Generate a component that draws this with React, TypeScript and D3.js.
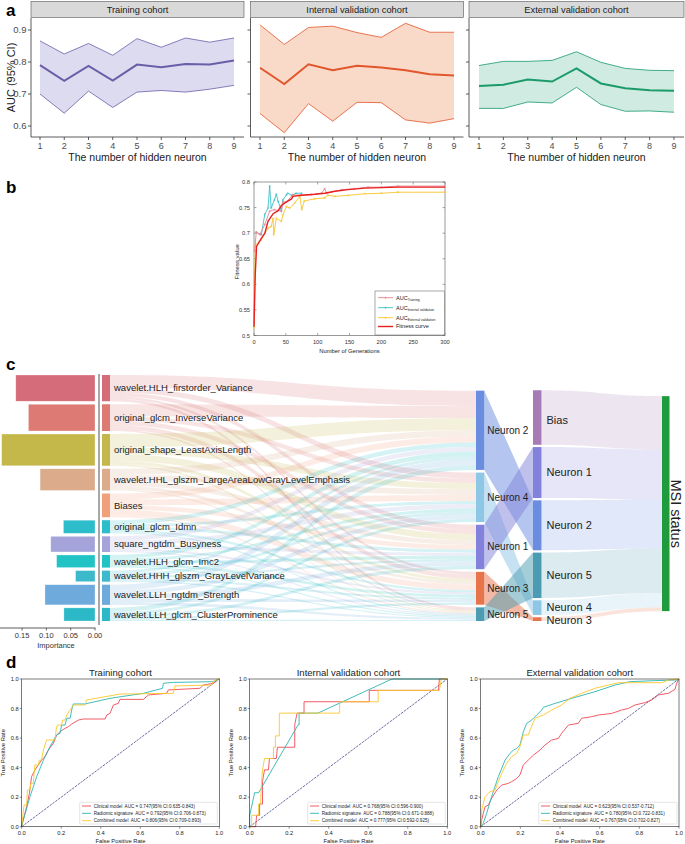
import React from 'react';
import * as d3 from 'd3';

const FONT = '"Liberation Sans", Arial, Helvetica, sans-serif';

// ---------- Panel a data ----------
const hiddenNeurons = [1, 2, 3, 4, 5, 6, 7, 8, 9];
const trainMean = [0.790, 0.741, 0.788, 0.742, 0.792, 0.784, 0.794, 0.792, 0.805];
const trainUpper = [0.866, 0.825, 0.858, 0.821, 0.873, 0.846, 0.875, 0.862, 0.875];
const trainLower = [0.700, 0.640, 0.709, 0.658, 0.706, 0.711, 0.706, 0.715, 0.727];
const internalMean = [0.782, 0.731, 0.793, 0.774, 0.788, 0.783, 0.774, 0.762, 0.758];
const internalUpper = [0.916, 0.855, 0.908, 0.912, 0.892, 0.877, 0.921, 0.893, 0.893];
const internalLower = [0.639, 0.579, 0.670, 0.615, 0.674, 0.673, 0.619, 0.609, 0.623];
const externalMean = [0.725, 0.729, 0.745, 0.739, 0.780, 0.733, 0.718, 0.712, 0.710];
const externalUpper = [0.789, 0.802, 0.802, 0.805, 0.832, 0.799, 0.780, 0.774, 0.773];
const externalLower = [0.655, 0.655, 0.675, 0.672, 0.721, 0.667, 0.646, 0.647, 0.643];
const cohortNames = ['Training cohort', 'Internal validation cohort', 'External validation cohort'];
const aucTicks = [0.6, 0.7, 0.8, 0.9];

// ---------- Panel b data ----------
const fitnessGen = [0, 2, 4, 11.5, 17, 22, 30, 38, 43, 51, 59, 61, 74, 95, 111, 127, 148, 174, 200, 226, 300];
const fitnessVal = [0.517, 0.62, 0.674, 0.69, 0.70, 0.723, 0.738, 0.744, 0.754, 0.761, 0.767, 0.772, 0.774, 0.776, 0.778, 0.782, 0.785, 0.788, 0.789, 0.79, 0.79];
const aucTrainGen = [1, 3.6, 9, 17, 24.6, 32, 43, 45.5, 51, 61, 74, 90, 106, 111, 114, 138, 158, 179, 200, 226, 300];
const aucTrainVal = [0.665, 0.702, 0.697, 0.717, 0.743, 0.746, 0.743, 0.761, 0.761, 0.775, 0.774, 0.775, 0.778, 0.787, 0.778, 0.785, 0.787, 0.79, 0.79, 0.792, 0.792];
const aucIntGen = [3.6, 11.5, 17, 22, 24.6, 27, 32, 35, 38, 43, 45.5, 51, 53, 59, 66, 75];
const aucIntVal = [0.702, 0.697, 0.737, 0.749, 0.792, 0.749, 0.765, 0.776, 0.762, 0.743, 0.765, 0.775, 0.778, 0.774, 0.778, 0.778];
const aucExtGen = [0, 2, 11.5, 22, 27, 30, 31, 35, 43, 45.5, 51, 56, 64, 72, 75, 79, 95, 111, 116, 127, 148, 174, 200, 226, 300];
const aucExtVal = [0.515, 0.677, 0.687, 0.71, 0.713, 0.729, 0.697, 0.729, 0.723, 0.736, 0.752, 0.749, 0.759, 0.772, 0.746, 0.763, 0.767, 0.769, 0.774, 0.772, 0.774, 0.777, 0.778, 0.78, 0.78];
const fitnessYTicks = [0.5, 0.55, 0.6, 0.65, 0.7, 0.75, 0.8];
const fitnessYLabels = ['0.5', '0.55', '0.6', '0.65', '0.7', '0.75', '0.8'];
const generationTicks = [0, 50, 100, 150, 200, 250, 300];

// ---------- Panel c data ----------
const featureNames = [
  'wavelet.HLH_firstorder_Variance',
  'original_glcm_InverseVariance',
  'original_shape_LeastAxisLength',
  'wavelet.HHL_glszm_LargeAreaLowGrayLevelEmphasis',
  'Biases',
  'original_glcm_Idmn',
  'square_ngtdm_Busyness',
  'wavelet.HLH_glcm_Imc2',
  'wavelet.HHH_glszm_GrayLevelVariance',
  'wavelet.LLH_ngtdm_Strength',
  'wavelet.LLH_glcm_ClusterProminence',
];
const featureImportance = [0.163, 0.137, 0.192, 0.113, null, 0.065, 0.091, 0.079, 0.040, 0.103, 0.064];
const featureNodeValues = [26, 26.5, 31.5, 21.5, 23.5, 13, 15.5, 12.5, 11, 20, 13];
const featureColors = ['#d56c79', '#de7a74', '#c5b84b', '#dbab8b', '#f2a07b', '#2dbcc9', '#a4a4da', '#22c3c4', '#3db9cc', '#6faadd', '#2cb9c7'];
const importanceTicks = [0, 0.05, 0.1, 0.15];
const hiddenL1Names = ['Neuron 2', 'Neuron 4', 'Neuron 1', 'Neuron 3', 'Neuron 5'];
const hiddenL1Values = [78.5, 49, 44, 32.5, 13.5];
const hiddenL1Colors = ['#6a8de0', '#8ec6e6', '#8282dc', '#e8744c', '#4b9bb2'];
const hiddenL2Names = ['Bias', 'Neuron 1', 'Neuron 2', 'Neuron 5', 'Neuron 4', 'Neuron 3'];
const hiddenL2Values = [54, 50.5, 49.5, 45, 14.5, 3.7];
const hiddenL2Colors = ['#a77cb6', '#8282dc', '#6a8de0', '#4b9bb2', '#8ec6e6', '#e8744c'];
const l1ToL2 = [2, 4, 1, 5, 3];
const msiValue = 213;
// input -> hidden layer 1 (columns: Neuron 2, 4, 1, 3, 5)
const inputWeights = [
  [5, 2, 1.5, 1, 1],
  [4, 1.5, 1.5, 1.5, 0.5],
  [4, 2, 2, 1, 0.5],
  [2, 2, 1.5, 1, 0.5],
  [2, 2, 1.5, 2, 0.5],
  [1.5, 1, 1, 0.8, 0.5],
  [1.5, 1.5, 1, 0.8, 0.5],
  [1.5, 1, 1, 1, 0.5],
  [1, 1, 0.8, 0.8, 0.5],
  [2, 1.5, 1.5, 1, 1],
  [1.5, 1, 1, 0.8, 0.5],
];

// ---------- Panel d data ----------
const rocTicks = [0, 0.2, 0.4, 0.6, 0.8, 1.0];
const rocTrainClinical = [[0, 0], [0.005, 0.034], [0.012, 0.068], [0.025, 0.135], [0.039, 0.226], [0.05, 0.339], [0.067, 0.384], [0.084, 0.418], [0.1, 0.451], [0.118, 0.474], [0.135, 0.519], [0.16, 0.564], [0.177, 0.621], [0.194, 0.643], [0.219, 0.666], [0.236, 0.677], [0.253, 0.695], [0.287, 0.722], [0.312, 0.729], [0.422, 0.729], [0.43, 0.756], [0.447, 0.767], [0.464, 0.824], [0.489, 0.835], [0.497, 0.862], [0.616, 0.862], [0.641, 0.892], [0.734, 0.903], [0.742, 0.926], [0.902, 0.937], [0.919, 0.959], [0.97, 0.971], [0.995, 0.998], [1, 1]];
const rocTrainRadiomic = [[0, 0], [0.008, 0.045], [0.042, 0.203], [0.076, 0.339], [0.11, 0.451], [0.143, 0.542], [0.177, 0.621], [0.194, 0.632], [0.202, 0.688], [0.219, 0.688], [0.228, 0.734], [0.245, 0.734], [0.253, 0.79], [0.261, 0.831], [0.32, 0.831], [0.447, 0.869], [0.616, 0.903], [0.713, 0.937], [0.717, 0.971], [0.767, 0.977], [0.97, 0.982], [1, 1]];
const rocTrainCombined = [[0, 0], [0.005, 0.068], [0.012, 0.147], [0.025, 0.147], [0.029, 0.248], [0.042, 0.248], [0.046, 0.293], [0.059, 0.293], [0.062, 0.35], [0.067, 0.418], [0.084, 0.418], [0.089, 0.451], [0.1, 0.451], [0.11, 0.519], [0.118, 0.553], [0.126, 0.587], [0.169, 0.587], [0.174, 0.655], [0.18, 0.688], [0.202, 0.688], [0.207, 0.722], [0.219, 0.722], [0.228, 0.756], [0.245, 0.79], [0.261, 0.824], [0.32, 0.824], [0.329, 0.858], [0.497, 0.898], [0.767, 0.903], [0.776, 0.953], [0.961, 0.959], [0.97, 0.986], [1, 1]];
const rocIntClinical = [[0, 0], [0.03, 0], [0.035, 0.077], [0.05, 0.077], [0.05, 0.154], [0.065, 0.154], [0.065, 0.308], [0.075, 0.385], [0.095, 0.385], [0.1, 0.462], [0.135, 0.462], [0.14, 0.538], [0.228, 0.538], [0.228, 0.692], [0.24, 0.769], [0.275, 0.769], [0.275, 0.846], [0.605, 0.846], [0.605, 0.923], [0.955, 0.923], [0.96, 1], [1, 1]];
const rocIntRadiomic = [[0, 0], [0, 0.077], [0.025, 0.23], [0.045, 0.23], [0.245, 0.69], [0.25, 0.69], [0.25, 0.769], [0.345, 0.769], [0.72, 1.0], [1, 1]];
const rocIntCombined = [[0, 0], [0.01, 0], [0.01, 0.077], [0.045, 0.077], [0.045, 0.154], [0.055, 0.154], [0.06, 0.308], [0.065, 0.385], [0.075, 0.462], [0.12, 0.462], [0.12, 0.538], [0.13, 0.538], [0.13, 0.615], [0.15, 0.615], [0.15, 0.769], [0.455, 0.769], [0.455, 0.846], [0.65, 0.846], [0.65, 0.923], [0.96, 0.923], [0.97, 1.0], [1, 1]];
const rocExtClinical = [[0, 0], [0.005, 0.045], [0.013, 0.09], [0.022, 0.135], [0.039, 0.147], [0.055, 0.192], [0.081, 0.248], [0.106, 0.282], [0.139, 0.293], [0.156, 0.305], [0.182, 0.327], [0.198, 0.35], [0.215, 0.418], [0.24, 0.451], [0.266, 0.485], [0.299, 0.519], [0.324, 0.553], [0.358, 0.587], [0.392, 0.598], [0.408, 0.632], [0.442, 0.688], [0.492, 0.7], [0.509, 0.734], [0.56, 0.745], [0.593, 0.756], [0.661, 0.767], [0.711, 0.79], [0.745, 0.801], [0.778, 0.824], [0.829, 0.84], [0.862, 0.858], [0.896, 0.892], [0.946, 0.903], [0.98, 0.93], [0.988, 0.971], [1, 1]];
const rocExtRadiomic = [[0, 0], [0.013, 0.023], [0.03, 0.09], [0.055, 0.203], [0.089, 0.339], [0.123, 0.451], [0.148, 0.497], [0.165, 0.519], [0.182, 0.53], [0.198, 0.553], [0.215, 0.643], [0.232, 0.7], [0.257, 0.722], [0.282, 0.756], [0.308, 0.79], [0.316, 0.808], [0.375, 0.835], [0.459, 0.869], [0.576, 0.914], [0.677, 0.959], [0.753, 0.982], [0.879, 0.989], [0.988, 0.993], [1, 1]];
const rocExtCombined = [[0, 0], [0.005, 0.113], [0.022, 0.203], [0.03, 0.214], [0.047, 0.237], [0.072, 0.248], [0.089, 0.305], [0.106, 0.361], [0.131, 0.429], [0.156, 0.474], [0.182, 0.497], [0.198, 0.542], [0.215, 0.621], [0.24, 0.621], [0.249, 0.655], [0.274, 0.734], [0.316, 0.756], [0.358, 0.79], [0.408, 0.824], [0.45, 0.869], [0.509, 0.903], [0.576, 0.937], [0.644, 0.959], [0.694, 0.975], [0.913, 0.975], [0.946, 0.993], [1, 1]];
const rocTrainLegend = ['Clinical model  AUC = 0.747(95% CI:0.635-0.843)', 'Radiomic signature  AUC = 0.792(95% CI:0.706-0.873)', 'Combined model  AUC = 0.806(95% CI:0.709-0.893)'];
const rocIntLegend = ['Clinical model  AUC = 0.768(95% CI:0.596-0.900)', 'Radiomic signature  AUC = 0.788(95% CI:0.671-0.888)', 'Combined model  AUC = 0.777(95% CI:0.592-0.925)'];
const rocExtLegend = ['Clinical model  AUC = 0.623(95% CI:0.537-0.712)', 'Radiomic signature  AUC = 0.780(95% CI:0.722-0.831)', 'Combined model  AUC = 0.767(95% CI:0.702-0.827)'];
const rocColors = ['#ef4a55', '#2db5b2', '#fcc72c'];

// ================= Panel a =================
function PanelA() {
  const top = 18, bottom = 137;
  const y = d3.scaleLinear().domain([0.6, 0.9]).range([126, 30]);
  const geoms = [
    { l: 31, r: 244, x1: 40, x9: 234 },
    { l: 250.5, r: 463.5, x1: 260, x9: 454 },
    { l: 469, r: 684, x1: 479, x9: 674 },
  ];
  const series = [
    { mean: trainMean, up: trainUpper, lo: trainLower, line: '#6a5ea8', fill: '#dddbef' },
    { mean: internalMean, up: internalUpper, lo: internalLower, line: '#e2562b', fill: '#f9dac8' },
    { mean: externalMean, up: externalUpper, lo: externalLower, line: '#1b9a6b', fill: '#d0ebe1' },
  ];
  return (
    <g>
      <text x={6} y={16} fontSize={17} fontWeight="bold">a</text>
      <text transform={`translate(15,${(top + bottom) / 2}) rotate(-90)`} textAnchor="middle" fontSize={11} fill="#1a1a1a">AUC (95% CI)</text>
      {geoms.map((g, i) => {
        const x = d3.scaleLinear().domain([1, 9]).range([g.x1, g.x9]);
        const s = series[i];
        const area = d3.area<number>()
          .x((_, j) => x(hiddenNeurons[j]))
          .y0((_, j) => y(s.lo[j]))
          .y1((_, j) => y(s.up[j]));
        const line = d3.line<number>().x((_, j) => x(hiddenNeurons[j])).y((d) => y(d));
        return (
          <g key={i}>
            <rect x={g.l} y={1.5} width={g.r - g.l} height={16} fill="#d9d9d9" stroke="#555" strokeWidth={0.6} />
            <text x={(g.l + g.r) / 2} y={13} textAnchor="middle" fontSize={9.3} fill="#1a1a1a">{cohortNames[i]}</text>
            <path d={area(s.mean) || ''} fill={s.fill} />
            <path d={line(s.up) || ''} fill="none" stroke={s.line} strokeWidth={0.8} />
            <path d={line(s.lo) || ''} fill="none" stroke={s.line} strokeWidth={0.8} />
            <path d={line(s.mean) || ''} fill="none" stroke={s.line} strokeWidth={2} />
            <line x1={g.l} x2={g.l} y1={top} y2={bottom} stroke="#333" strokeWidth={0.8} />
            <line x1={g.l} x2={g.r} y1={bottom} y2={bottom} stroke="#333" strokeWidth={0.8} />
            {aucTicks.map((t) => (
              <g key={t}>
                <line x1={g.l - 3} x2={g.l} y1={y(t)} y2={y(t)} stroke="#333" strokeWidth={0.8} />
                {i === 0 && (
                  <text x={g.l - 4.5} y={y(t) + 3.3} textAnchor="end" fontSize={9.5} fill="#4d4d4d">{t.toFixed(1)}</text>
                )}
              </g>
            ))}
            {hiddenNeurons.map((n) => (
              <g key={n}>
                <line x1={x(n)} x2={x(n)} y1={bottom} y2={bottom + 3} stroke="#333" strokeWidth={0.8} />
                <text x={x(n)} y={bottom + 11.5} textAnchor="middle" fontSize={9} fill="#4d4d4d">{n}</text>
              </g>
            ))}
            <text x={(g.l + g.r) / 2} y={161} textAnchor="middle" fontSize={10.5} fill="#1a1a1a">The number of hidden neuron</text>
          </g>
        );
      })}
    </g>
  );
}

// ================= Panel b =================
function PanelB() {
  const L = 254, R = 445, T = 182, B = 335.5;
  const x = d3.scaleLinear().domain([0, 300]).range([L, R]);
  const y = d3.scaleLinear().domain([0.5, 0.8]).range([B, T]);
  const line = d3.line<[number, number]>().x((d) => x(d[0])).y((d) => y(d[1]));
  const pts = (g: number[], v: number[]) => g.map((gg, i) => [gg, v[i]] as [number, number]);
  const train = pts(aucTrainGen, aucTrainVal);
  const intl = pts(aucIntGen, aucIntVal);
  const ext = pts(aucExtGen, aucExtVal);
  const fit = pts(fitnessGen, fitnessVal);
  const plus = (p: [number, number], c: string, k: string) => (
    <path key={k} d={`M${x(p[0]) - 1.2},${y(p[1])}h2.4M${x(p[0])},${y(p[1]) - 1.2}v2.4`} stroke={c} strokeWidth={0.5} />
  );
  const legendItems = [
    { main: 'AUC', sub: 'Training', color: '#e8828f', w: 0.9 },
    { main: 'AUC', sub: 'Internal validation', color: '#3bbfc9', w: 0.9 },
    { main: 'AUC', sub: 'External validation', color: '#f7c52a', w: 0.9 },
    { main: 'Fitness curve', sub: '', color: '#e82020', w: 1.4 },
  ];
  const legY = [297.7, 307.7, 317.7, 326.5];
  return (
    <g>
      <text x={6} y={193} fontSize={17} fontWeight="bold">b</text>
      <rect x={L} y={T} width={R - L} height={B - T} fill="#fff" stroke="#555" strokeWidth={0.6} />
      {fitnessYTicks.map((t, i) => (
        <g key={t}>
          <line x1={L} x2={L + 2.5} y1={y(t)} y2={y(t)} stroke="#555" strokeWidth={0.5} />
          <line x1={R - 2.5} x2={R} y1={y(t)} y2={y(t)} stroke="#555" strokeWidth={0.5} />
          <text x={L - 4} y={y(t) + 2} textAnchor="end" fontSize={5.7} fill="#333">{fitnessYLabels[i]}</text>
        </g>
      ))}
      {generationTicks.map((t) => (
        <g key={t}>
          <line x1={x(t)} x2={x(t)} y1={B} y2={B - 2.5} stroke="#555" strokeWidth={0.5} />
          <line x1={x(t)} x2={x(t)} y1={T} y2={T + 2.5} stroke="#555" strokeWidth={0.5} />
          <text x={x(t)} y={B + 8} textAnchor="middle" fontSize={5.7} fill="#333">{t}</text>
        </g>
      ))}
      <text transform={`translate(239,${(T + B) / 2 + 3}) rotate(-90)`} textAnchor="middle" fontSize={6} fill="#222">Fitness value</text>
      <text x={(L + R) / 2} y={352.5} textAnchor="middle" fontSize={5.8} fill="#222">Number of Generations</text>
      <path d={line(ext) || ''} fill="none" stroke="#f7c52a" strokeWidth={0.9} />
      {ext.map((p, i) => plus(p, '#f7c52a', 'e' + i))}
      <path d={line(intl) || ''} fill="none" stroke="#3bbfc9" strokeWidth={0.9} />
      {intl.map((p, i) => plus(p, '#3bbfc9', 'i' + i))}
      <path d={line(train) || ''} fill="none" stroke="#e8828f" strokeWidth={0.9} />
      {train.map((p, i) => plus(p, '#e8828f', 't' + i))}
      <path d={line(fit) || ''} fill="none" stroke="#e82020" strokeWidth={1.4} />
      <rect x={375} y={291} width={R - 375 - 0.5} height={B - 291 - 0.5} fill="#fff" stroke="#555" strokeWidth={0.5} />
      {legendItems.map((it, i) => (
        <g key={i}>
          <line x1={378} x2={393} y1={legY[i]} y2={legY[i]} stroke={it.color} strokeWidth={it.w} />
          {it.sub && <path d={`M384.3,${legY[i]}h2.4M385.5,${legY[i] - 1.2}v2.4`} stroke={it.color} strokeWidth={0.5} />}
          <text x={396} y={legY[i] + 1.8} fontSize={5.5} fill="#222">
            {it.main}
            {it.sub && <tspan dy={1.6} fontSize={3.4}>{it.sub}</tspan>}
          </text>
        </g>
      ))}
    </g>
  );
}

// ================= Panel c =================
function PanelC() {
  const X1 = 102, W1 = 8, X2 = 476, W2 = 8.3, X3 = 533, W3 = 8.5, X4 = 662, W4 = 7.5;
  const gap1 = 3, gap2 = 2.7, gap3 = 2.3;
  const top1 = 375, span1 = 246;
  const k = (span1 - gap1 * (featureNodeValues.length - 1)) / d3.sum(featureNodeValues);
  let acc = top1;
  const n1 = featureNodeValues.map((v) => {
    const y0 = acc, y1 = acc + v * k;
    acc = y1 + gap1;
    return { y0, y1 };
  });
  const bottom = n1[n1.length - 1].y1;
  const stack = (vals: number[], gap: number) => {
    const total = d3.sum(vals) * k + gap * (vals.length - 1);
    let a = bottom - total;
    return vals.map((v) => {
      const y0 = a, y1 = a + v * k;
      a = y1 + gap;
      return { y0, y1 };
    });
  };
  const n2 = stack(hiddenL1Values, gap2);
  const n3 = stack(hiddenL2Values, gap3);
  const mid3 = (n3[0].y0 + n3[n3.length - 1].y1) / 2;
  const n4 = { y0: mid3 - (msiValue * k) / 2 - 2, y1: mid3 + (msiValue * k) / 2 - 2 };

  // input links
  const rowSums = inputWeights.map((r) => d3.sum(r));
  const colSums = hiddenL1Values.map((_, j) => d3.sum(inputWeights, (r) => r[j]));
  const sOff = n1.map((n) => n.y0);
  const tOff = n2.map((n) => n.y0);
  const inLinks: { d: string; c: string }[] = [];
  const xa = X1 + W1, xb = X2, xm = (xa + xb) / 2;
  inputWeights.forEach((row, i) => {
    row.forEach((w, j) => {
      const hs = ((n1[i].y1 - n1[i].y0) * w) / rowSums[i];
      const ht = ((n2[j].y1 - n2[j].y0) * w) / colSums[j];
      const s0 = sOff[i], s1 = s0 + hs, t0 = tOff[j], t1 = t0 + ht;
      sOff[i] = s1;
      tOff[j] = t1;
      inLinks.push({
        d: `M${xa},${s0}C${xm},${s0} ${xm},${t0} ${xb},${t0}L${xb},${t1}C${xm},${t1} ${xm},${s1} ${xa},${s1}Z`,
        c: featureColors[i],
      });
    });
  });

  // layer1 -> layer2
  const midLinks = hiddenL1Values.map((_, i) => {
    const s = n2[i], t = n3[l1ToL2[i]];
    const a = X2 + W2, b = X3;
    return { d: `M${a},${s.y0}L${b},${t.y0}L${b},${t.y1}L${a},${s.y1}Z`, c: hiddenL1Colors[i] };
  });

  // layer2 -> output
  let oAcc = n4.y0;
  const outScale = (n4.y1 - n4.y0) / d3.sum(hiddenL2Values);
  const outLinks = hiddenL2Values.map((v, i) => {
    const s = n3[i];
    const t0 = oAcc, t1 = oAcc + v * outScale;
    oAcc = t1;
    const a = X3 + W3, b = X4, m = (a + b) / 2;
    return {
      d: `M${a},${s.y0}C${m},${s.y0} ${m},${t0} ${b},${t0}L${b},${t1}C${m},${t1} ${m},${s.y1} ${a},${s.y1}Z`,
      c: hiddenL2Colors[i],
    };
  });

  // importance bar chart
  const xi = d3.scaleLinear().domain([0, 0.15]).range([95, 22.1]);
  const axisY = 628;

  return (
    <g>
      <text x={6} y={370} fontSize={17} fontWeight="bold">c</text>
      {inLinks.map((l, i) => (
        <path key={i} d={l.d} fill={l.c} fillOpacity={0.2} />
      ))}
      {midLinks.map((l, i) => (
        <path key={i} d={l.d} fill={l.c} fillOpacity={0.5} />
      ))}
      {outLinks.map((l, i) => (
        <path key={i} d={l.d} fill={l.c} fillOpacity={0.2} />
      ))}
      {featureImportance.map((v, i) =>
        v == null ? null : (
          <rect key={i} x={xi(v)} y={n1[i].y0} width={xi(0) - xi(v)} height={n1[i].y1 - n1[i].y0}
            fill={featureColors[i]} stroke="#ffffff" strokeOpacity={0.5} strokeWidth={0.6} />
        )
      )}
      <line x1={99} x2={99} y1={374} y2={625} stroke="#a8a8a8" strokeWidth={2} />
      <line x1={0} x2={95.5} y1={axisY} y2={axisY} stroke="#333" strokeWidth={0.8} />
      {importanceTicks.map((t) => (
        <g key={t}>
          <line x1={xi(t)} x2={xi(t)} y1={axisY} y2={axisY + 2.5} stroke="#333" strokeWidth={0.7} />
          <text x={xi(t)} y={axisY + 10} textAnchor="middle" fontSize={7.5} fill="#333">{t.toFixed(2)}</text>
        </g>
      ))}
      <text x={56} y={647.5} textAnchor="middle" fontSize={7.5} fill="#333">Importance</text>
      {n1.map((n, i) => (
        <g key={i}>
          <rect x={X1} y={n.y0} width={W1} height={n.y1 - n.y0} fill={featureColors[i]} />
          <text x={X1 + W1 + 4} y={(n.y0 + n.y1) / 2} dy="0.35em" fontSize={9.5} fill="#222">{featureNames[i]}</text>
        </g>
      ))}
      {n2.map((n, i) => (
        <g key={i}>
          <rect x={X2} y={n.y0} width={W2} height={n.y1 - n.y0} fill={hiddenL1Colors[i]} />
          <text x={X2 + W2 + 3} y={(n.y0 + n.y1) / 2} dy="0.35em" fontSize={10} fill="#222">{hiddenL1Names[i]}</text>
        </g>
      ))}
      {n3.map((n, i) => (
        <g key={i}>
          <rect x={X3} y={n.y0} width={W3} height={n.y1 - n.y0} fill={hiddenL2Colors[i]} />
          <text x={X3 + W3 + 5} y={(n.y0 + n.y1) / 2 + (i === 0 ? 3 : i === 4 ? -0.8 : i === 5 ? 1 : 0)} dy="0.35em" fontSize={11} fill="#222">{hiddenL2Names[i]}</text>
        </g>
      ))}
      <rect x={X4} y={n4.y0} width={W4} height={n4.y1 - n4.y0} fill="#1f9a3c" />
      <text transform={`translate(676,${(n4.y0 + n4.y1) / 2 + 10}) rotate(90)`} textAnchor="middle" dy="0.35em" fontSize={14.5} fill="#222">MSI status</text>
    </g>
  );
}

// ================= Panel d =================
function RocPanel(props: { left: number; right: number; title: string; curves: number[][][]; legend: string[] }) {
  const { left, right, title, curves, legend } = props;
  const top = 679, bottom = 826.7;
  const x = d3.scaleLinear().domain([0, 1]).range([left, right]);
  const y = d3.scaleLinear().domain([0, 1]).range([bottom, top]);
  const line = d3.line<number[]>().x((d) => x(d[0])).y((d) => y(d[1]));
  const lx = left + 58, lw = right - 2 - lx, ly = 802.3;
  const entryY = [806, 813.3, 820.7];
  return (
    <g>
      <text x={(left + right) / 2} y={676} textAnchor="middle" fontSize={9.5} fill="#222">{title}</text>
      <line x1={x(0)} y1={y(0)} x2={x(1)} y2={y(1)} stroke="#2c2c7c" strokeWidth={0.7} strokeDasharray="2.5,1" />
      {curves.map((c, i) => (
        <path key={i} d={line(c) || ''} fill="none" stroke={rocColors[i]} strokeWidth={0.9} />
      ))}
      <rect x={left} y={top} width={right - left} height={bottom - top} fill="none" stroke="#222" strokeWidth={0.6} />
      {rocTicks.map((t) => (
        <g key={t}>
          <line x1={x(t)} x2={x(t)} y1={bottom} y2={bottom + 2} stroke="#222" strokeWidth={0.5} />
          <text x={x(t)} y={bottom + 8} textAnchor="middle" fontSize={5.7} fill="#222">{t.toFixed(1)}</text>
          <line x1={left - 2} x2={left} y1={y(t)} y2={y(t)} stroke="#222" strokeWidth={0.5} />
          <text x={left - 3} y={y(t) + 2} textAnchor="end" fontSize={5.7} fill="#222">{t.toFixed(1)}</text>
        </g>
      ))}
      <text transform={`translate(${left - 17},${(top + bottom) / 2}) rotate(-90)`} textAnchor="middle" fontSize={5.8} fill="#222">True Positive Rate</text>
      <text x={(left + right) / 2} y={843} textAnchor="middle" fontSize={5.8} fill="#222">False Positive Rate</text>
      <rect x={lx} y={ly} width={lw} height={21.7} rx={1} fill="#fff" fillOpacity={0.9} stroke="#cccccc" strokeWidth={0.5} />
      {legend.map((s, i) => (
        <g key={i}>
          <line x1={lx + 2.3} x2={lx + 11.3} y1={entryY[i]} y2={entryY[i]} stroke={rocColors[i]} strokeWidth={0.9} />
          <text x={lx + 14} y={entryY[i] + 1.6} fontSize={4.6} fill="#222" style={{ whiteSpace: 'pre' }}>{s}</text>
        </g>
      ))}
    </g>
  );
}

function PanelD() {
  return (
    <g>
      <text x={6} y={668} fontSize={17} fontWeight="bold">d</text>
      <RocPanel left={21.7} right={219.3} title="Training cohort" curves={[rocTrainClinical, rocTrainRadiomic, rocTrainCombined]} legend={rocTrainLegend} />
      <RocPanel left={249.7} right={447.3} title="Internal validation cohort" curves={[rocIntClinical, rocIntRadiomic, rocIntCombined]} legend={rocIntLegend} />
      <RocPanel left={480.7} right={679} title="External validation cohort" curves={[rocExtClinical, rocExtRadiomic, rocExtCombined]} legend={rocExtLegend} />
    </g>
  );
}

export default function App() {
  return (
    <svg width={685} height={844} style={{ position: 'absolute', left: 0, top: 0, background: '#fff' }} fontFamily={FONT}>
      <rect width={685} height={844} fill="#fff" />
      <PanelA />
      <PanelB />
      <PanelC />
      <PanelD />
    </svg>
  );
}
